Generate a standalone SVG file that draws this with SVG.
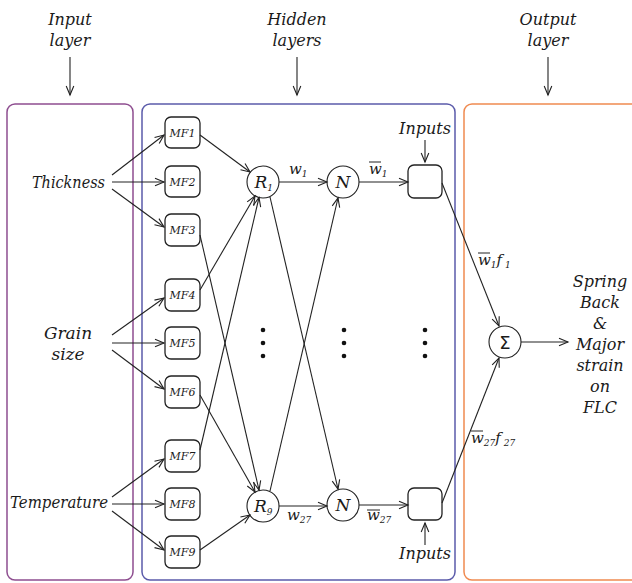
<svg xmlns="http://www.w3.org/2000/svg" width="632" height="583" viewBox="0 0 632 583">
<style>
text{font-family:"DejaVu Serif",serif;font-style:italic;fill:#1a1a1a}
.h{font-size:16px;text-anchor:middle}
.in{font-size:17px}
.out{font-size:16px;text-anchor:middle}
.mf{font-size:11px;text-anchor:middle}
.lbl{font-size:15px}
.sub{font-size:9px}
.box{fill:#fff;stroke:#222;stroke-width:1.3}
.node{fill:#fff;stroke:#222;stroke-width:1.1}
.ln{stroke:#222;stroke-width:1;fill:none}
.arr{stroke:#222;stroke-width:1.1;fill:none;marker-end:url(#ah)}
.dot{fill:#111}
</style>
<defs>
<marker id="ah" viewBox="-10 -5 12 10" refX="0" refY="0" markerWidth="12" markerHeight="10" markerUnits="userSpaceOnUse" orient="auto">
<path d="M-9,-3.8 L0,0 L-9,3.8" fill="none" stroke="#222" stroke-width="1.1"/>
</marker>
</defs>
<rect width="632" height="583" fill="#fff"/>

<g id="panels">
<rect x="7" y="104" width="126" height="476" rx="8" fill="none" stroke="#8E4E90" stroke-width="1.5"/>
<rect x="142" y="104" width="313" height="476" rx="8" fill="none" stroke="#5B5BAA" stroke-width="1.5"/>
<rect x="464" y="104" width="180" height="476" rx="8" fill="none" stroke="#F08A50" stroke-width="1.5"/>
</g>

<g id="headers">
<text class="h" x="70" y="25">Input</text>
<text class="h" x="70" y="46">layer</text>
<text class="h" x="297" y="25">Hidden</text>
<text class="h" x="297" y="46">layers</text>
<text class="h" x="548" y="25">Output</text>
<text class="h" x="548" y="46">layer</text>
</g>

<g id="inputs">
<text class="in" x="32" y="188" textLength="73" lengthAdjust="spacingAndGlyphs">Thickness</text>
<text class="in" x="68" y="339" text-anchor="middle">Grain</text>
<text class="in" x="68" y="360" text-anchor="middle">size</text>
<text class="in" x="10" y="508" textLength="98" lengthAdjust="spacingAndGlyphs">Temperature</text>
</g>

<g id="mf1"><rect class="box" x="165" y="117" width="35" height="31" rx="6"/><text class="mf" x="182.5" y="136.5">MF1</text></g>
<g id="mf2"><rect class="box" x="165" y="166" width="35" height="31" rx="6"/><text class="mf" x="182.5" y="185.5">MF2</text></g>
<g id="mf3"><rect class="box" x="165" y="214" width="35" height="32" rx="6"/><text class="mf" x="182.5" y="234">MF3</text></g>
<g id="mf4"><rect class="box" x="165" y="279" width="35" height="32" rx="6"/><text class="mf" x="182.5" y="299">MF4</text></g>
<g id="mf5"><rect class="box" x="165" y="327" width="35" height="32" rx="6"/><text class="mf" x="182.5" y="347">MF5</text></g>
<g id="mf6"><rect class="box" x="165" y="376" width="35" height="32" rx="6"/><text class="mf" x="182.5" y="396">MF6</text></g>
<g id="mf7"><rect class="box" x="165" y="440" width="35" height="32" rx="6"/><text class="mf" x="182.5" y="460">MF7</text></g>
<g id="mf8"><rect class="box" x="165" y="488" width="35" height="32" rx="6"/><text class="mf" x="182.5" y="508">MF8</text></g>
<g id="mf9"><rect class="box" x="165" y="536" width="35" height="32" rx="6"/><text class="mf" x="182.5" y="556">MF9</text></g>

<g id="r1"><circle class="node" cx="263" cy="182" r="16"/><text x="254.5" y="188" font-size="17">R<tspan class="sub" dy="3">1</tspan></text></g>
<g id="r9"><circle class="node" cx="263" cy="506" r="16"/><text x="254" y="512" font-size="17">R<tspan class="sub" dy="3">9</tspan></text></g>
<g id="n1"><circle class="node" cx="343" cy="182" r="16"/><text x="343" y="188" font-size="17" text-anchor="middle">N</text></g>
<g id="n2"><circle class="node" cx="343" cy="505" r="16"/><text x="343" y="511" font-size="17" text-anchor="middle">N</text></g>
<g id="s1"><rect class="box" x="408" y="165" width="34" height="33" rx="6"/></g>
<g id="s2"><rect class="box" x="408" y="488" width="34" height="32" rx="6"/></g>
<g id="sigma"><circle class="node" cx="505" cy="342" r="16"/><text x="505" y="348.5" text-anchor="middle" font-size="18" style="font-style:normal;font-family:'DejaVu Sans',sans-serif">Σ</text></g>
<g id="output"><text class="out" x="600" y="287">Spring</text>
<text class="out" x="600" y="308">Back</text>
<text class="out" x="600" y="329">&amp;</text>
<text class="out" x="600" y="350">Major</text>
<text class="out" x="600" y="371">strain</text>
<text class="out" x="600" y="392">on</text>
<text class="out" x="600" y="413">FLC</text></g>

<g id="dots">
<circle class="dot" cx="263" cy="330" r="2.3"/><circle class="dot" cx="263" cy="343" r="2.3"/><circle class="dot" cx="263" cy="356" r="2.3"/>
<circle class="dot" cx="344" cy="330" r="2.3"/><circle class="dot" cx="344" cy="343" r="2.3"/><circle class="dot" cx="344" cy="356" r="2.3"/>
<circle class="dot" cx="425" cy="330" r="2.3"/><circle class="dot" cx="425" cy="343" r="2.3"/><circle class="dot" cx="425" cy="356" r="2.3"/>
</g>

<g id="connectors">
<line class="arr" x1="70" y1="57" x2="70" y2="95"/>
<line class="arr" x1="297" y1="57" x2="297" y2="95"/>
<line class="arr" x1="548" y1="57" x2="548" y2="95"/>

<line class="arr" x1="112" y1="175" x2="164" y2="135"/>
<line class="arr" x1="112" y1="182" x2="164" y2="182"/>
<line class="arr" x1="112" y1="189" x2="164" y2="227"/>
<line class="arr" x1="112" y1="335" x2="164" y2="298"/>
<line class="arr" x1="112" y1="343" x2="164" y2="343"/>
<line class="arr" x1="112" y1="350" x2="164" y2="389"/>
<line class="arr" x1="112" y1="497" x2="164" y2="459"/>
<line class="arr" x1="112" y1="504" x2="164" y2="504"/>
<line class="arr" x1="112" y1="511" x2="164" y2="550"/>

<line class="arr" x1="200" y1="135" x2="250" y2="172"/>
<line class="arr" x1="200" y1="290" x2="255" y2="196"/>
<line class="arr" x1="200" y1="450" x2="259" y2="197.5"/>
<line class="arr" x1="200" y1="235" x2="259" y2="490"/>
<line class="arr" x1="200" y1="395" x2="255" y2="492"/>
<line class="arr" x1="200" y1="550" x2="250" y2="515"/>

<line class="arr" x1="270" y1="197" x2="338" y2="489"/>
<line class="arr" x1="270" y1="491" x2="338" y2="198"/>

<line class="arr" x1="279" y1="182" x2="327" y2="182"/>
<line class="arr" x1="359" y1="182" x2="408" y2="182"/>
<line class="arr" x1="279" y1="506" x2="327" y2="506"/>
<line class="arr" x1="359" y1="505" x2="408" y2="505"/>

<line class="arr" x1="425" y1="140" x2="425" y2="162"/>
<line class="arr" x1="425" y1="545" x2="425" y2="523"/>

<line class="arr" x1="442" y1="183" x2="499" y2="326"/>
<line class="arr" x1="442" y1="503" x2="499" y2="358"/>
<line class="arr" x1="521" y1="342" x2="568" y2="342"/>
</g>

<g id="labels">
<text class="lbl" x="289" y="174">w<tspan class="sub" dy="3">1</tspan></text>
<text class="lbl" x="369" y="174">w<tspan class="sub" dy="3">1</tspan></text>
<line class="ln" x1="369" y1="162" x2="381" y2="162" stroke-width="1.3"/>
<text class="lbl" x="287" y="520">w<tspan class="sub" dy="3">27</tspan></text>
<text class="lbl" x="367" y="520">w<tspan class="sub" dy="3">27</tspan></text>
<line class="ln" x1="367" y1="510" x2="380" y2="510" stroke-width="1.5"/>
<text class="h" x="425" y="134">Inputs</text>
<text class="h" x="425" y="559">Inputs</text>
<text class="lbl" x="478" y="265">w<tspan class="sub" dy="3">1</tspan><tspan dy="-3">f</tspan><tspan class="sub" dy="3"> 1</tspan></text>
<line class="ln" x1="478" y1="253" x2="490" y2="253" stroke-width="1.3"/>
<text class="lbl" x="471" y="443">w<tspan class="sub" dy="3">27</tspan><tspan dy="-3">f</tspan><tspan class="sub" dy="3"> 27</tspan></text>
<line class="ln" x1="471" y1="431" x2="483" y2="431" stroke-width="1.3"/>
</g>
</svg>
